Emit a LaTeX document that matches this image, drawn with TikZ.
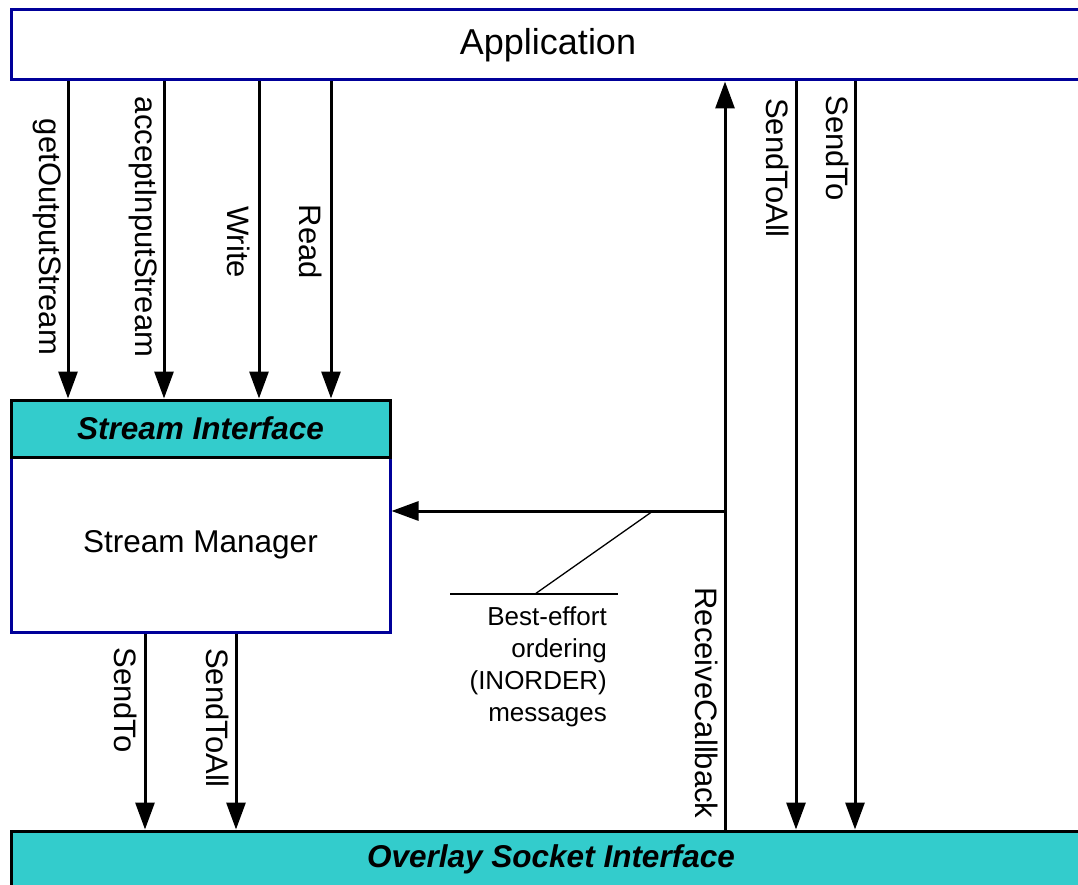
\documentclass[tikz,border=0pt]{standalone}
\usepackage{fontspec}
\setmainfont{Liberation Sans}
\usetikzlibrary{arrows.meta}
\definecolor{navyb}{HTML}{000099}
\definecolor{tealf}{HTML}{33CCCC}
\begin{document}
\begin{tikzpicture}[x=1pt,y=-1pt,
  arr/.style={line width=3pt, -{Triangle[length=27pt,width=19pt]}},
  lbl/.style={rotate=-90, inner sep=0pt, font=\fontsize{31}{36}\selectfont},
  navybox/.style={draw=navyb, line width=3pt, fill=white, inner sep=0pt},
  tealbox/.style={draw=black, line width=3pt, fill=tealf, inner sep=0pt, font=\fontsize{31.5}{36}\selectfont\bfseries\itshape},
  thin/.style={line width=1.3pt}]
\useasboundingbox (0,0) rectangle (1078,885);
\clip (0,0) rectangle (1078,885);
% boxes
\node[navybox, minimum width=1074pt, minimum height=70pt, font=\fontsize{36}{40}\selectfont] (app) at (548,45) {Application};
\node[navybox, minimum width=379pt, minimum height=175pt, font=\fontsize{31.5}{36}\selectfont] (sm) at (200.5,544.5) {\raisebox{4pt}{Stream Manager}};
\node[tealbox, minimum width=379pt, minimum height=57pt] (si) at (200.5,428.5) {Stream Interface};
\node[tealbox, minimum width=1080pt, minimum height=56pt] (osi) at (551,859) {Overlay Socket Interface};
% column coordinates
\coordinate (c1) at (68,0);
\coordinate (c2) at (164,0);
\coordinate (c3) at (259,0);
\coordinate (c4) at (331,0);
\coordinate (c5) at (145,0);
\coordinate (c6) at (236,0);
\coordinate (c7) at (725,0);
\coordinate (c8) at (796,0);
\coordinate (c9) at (855,0);
% arrows app -> stream interface
\draw[arr] (c1 |- app.south) -- (c1 |- si.north);
\draw[arr] (c2 |- app.south) -- (c2 |- si.north);
\draw[arr] (c3 |- app.south) -- (c3 |- si.north);
\draw[arr] (c4 |- app.south) -- (c4 |- si.north);
% stream manager -> overlay
\draw[arr] (c5 |- sm.south) -- (c5 |- osi.north);
\draw[arr] (c6 |- sm.south) -- (c6 |- osi.north);
% receive callback
\draw[arr] (c7 |- osi.north) -- (c7 |- app.south);
\coordinate (rc) at (725,511);
\draw[arr] (rc) -- (rc -| sm.east);
% send arrows app -> overlay
\draw[arr] (c8 |- app.south) -- (c8 |- osi.north);
\draw[arr] (c9 |- app.south) -- (c9 |- osi.north);
% labels
\node[lbl] (l1) at (47,237) {getOutputStream};
\node[lbl] (l2) at (143,227) {acceptInputStream};
\node[lbl] (l3) at (239,242) {Write};
\node[lbl] (l4) at (311,242) {Read};
\node[lbl] (l5) at (778,168) {SendToAll};
\node[lbl] (l6) at (838,148) {SendTo};
\node[lbl] (l7) at (707,703) {ReceiveCallback};
\node[lbl] (l8) at (126,700) {SendTo};
\node[lbl] (l9) at (218,718) {SendToAll};
% callout
\coordinate (ca) at (653,511);
\coordinate (cb) at (535,594);
\coordinate (cl) at (450,594);
\coordinate (cr) at (618,594);
\draw[thin] (ca) -- (cb);
\draw[thin] (cl) -- (cr);
\node[anchor=east, align=right, inner sep=0pt, font=\fontsize{26}{32}\selectfont] (note) at (607,667) {Best-effort\\ordering\\(INORDER)\\messages};
\end{tikzpicture}
\end{document}
